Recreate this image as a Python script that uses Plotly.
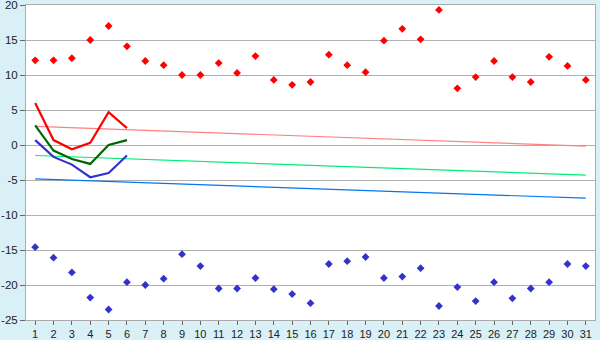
import plotly.graph_objects as go

days = list(range(1, 32))
max_temp = [12.1, 12.1, 12.4, 15.0, 17.0, 14.1, 12.0, 11.4, 10.0, 10.0,
            11.7, 10.3, 12.7, 9.3, 8.6, 9.0, 12.9, 11.4, 10.4, 14.9,
            16.6, 15.1, 19.3, 8.1, 9.7, 12.0, 9.7, 9.0, 12.6, 11.3, 9.3]
min_temp = [-14.6, -16.1, -18.2, -21.8, -23.5, -19.6, -20.0, -19.1, -15.6, -17.3,
            -20.5, -20.5, -19.0, -20.6, -21.3, -22.6, -17.0, -16.6, -16.0, -19.0,
            -18.8, -17.6, -23.0, -20.3, -22.3, -19.6, -21.9, -20.5, -19.6, -17.0, -17.3]
line_days = [1, 2, 3, 4, 5, 6]
red_line = [6.0, 0.7, -0.6, 0.3, 4.7, 2.4]
green_line = [2.8, -0.8, -2.0, -2.7, 0.0, 0.7]
blue_line = [0.7, -1.7, -2.8, -4.6, -4.0, -1.5]
trend_days = [1, 31]
trend_high = [2.65, -0.15]
trend_mid = [-1.5, -4.3]
trend_low = [-4.85, -7.6]
y_ticks = [-25, -20, -15, -10, -5, 0, 5, 10, 15, 20]

fig = go.Figure()
fig.add_trace(go.Scatter(x=trend_days, y=trend_high, mode="lines",
                         line=dict(color="#ff8080", width=1.2)))
fig.add_trace(go.Scatter(x=trend_days, y=trend_mid, mode="lines",
                         line=dict(color="#00ee77", width=1.2)))
fig.add_trace(go.Scatter(x=trend_days, y=trend_low, mode="lines",
                         line=dict(color="#0077ee", width=1.2)))
fig.add_trace(go.Scatter(x=line_days, y=red_line, mode="lines",
                         line=dict(color="#ff0000", width=2.2)))
fig.add_trace(go.Scatter(x=line_days, y=green_line, mode="lines",
                         line=dict(color="#006600", width=2.2)))
fig.add_trace(go.Scatter(x=line_days, y=blue_line, mode="lines",
                         line=dict(color="#3333cc", width=2.2)))
fig.add_trace(go.Scatter(x=days, y=max_temp, mode="markers",
                         marker=dict(symbol="diamond", size=6, color="#ff0000",
                                     line=dict(width=0))))
fig.add_trace(go.Scatter(x=days, y=min_temp, mode="markers",
                         marker=dict(symbol="diamond", size=6, color="#3333cc",
                                     line=dict(width=0))))

fig.update_layout(
    width=600, height=340,
    margin=dict(l=26, r=5, t=5, b=20),
    paper_bgcolor="#d9f0f7",
    plot_bgcolor="#ffffff",
    showlegend=False,
    font=dict(family="Liberation Sans", size=11.5, color="#222222"),
)
fig.update_xaxes(range=[0.5, 31.5], tickmode="array", tickvals=days,
                 ticktext=[str(d) for d in days],
                 tickfont=dict(size=11),
                 showgrid=False, zeroline=False, automargin=False,
                 showline=True, linecolor="#aaaaaa", linewidth=1, mirror=True,
                 ticks="outside", ticklen=4, tickcolor="#666666")
fig.update_yaxes(range=[-25, 20], tickmode="array",
                 tickvals=y_ticks, ticktext=[str(v) for v in y_ticks],
                 showgrid=True, gridcolor="#b0b0b0", gridwidth=1, zeroline=False,
                 automargin=False, ticklabeloverflow="allow",
                 showline=True, linecolor="#aaaaaa", linewidth=1, mirror=True,
                 ticks="outside", ticklen=5, tickcolor="#666666")

fig.write_html("out.html")
